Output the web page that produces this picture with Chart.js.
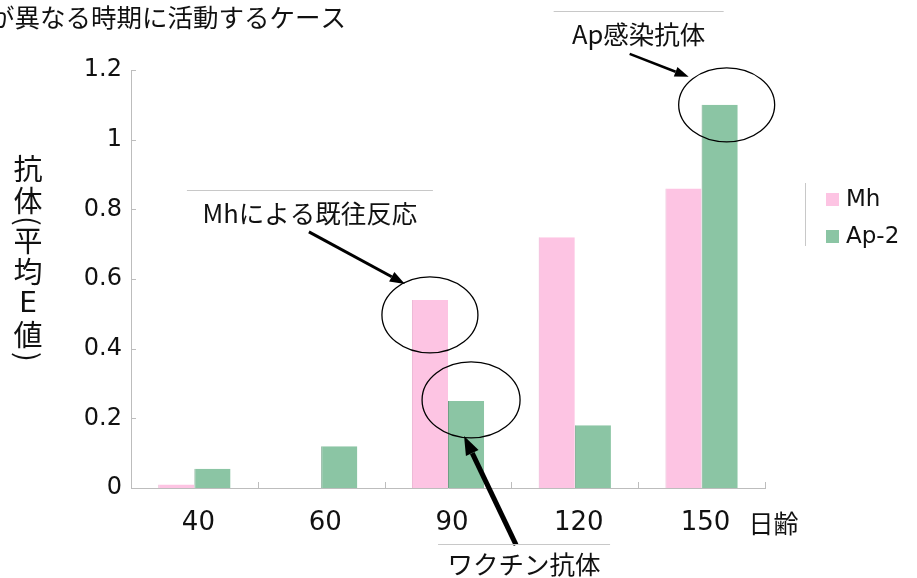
<!DOCTYPE html>
<html>
<head>
<meta charset="utf-8">
<script src="https://cdn.jsdelivr.net/npm/chart.js@4/dist/chart.umd.min.js"></script>
<style>
  html, body { margin: 0; padding: 0; background: #ffffff; }
  #wrap { width: 917px; height: 578px; }
</style>
</head>
<body>
<div id="wrap"><canvas id="c" width="917" height="578"></canvas></div>
<script>
// ---- data ----
const categories = ['40', '60', '90', '120', '150'];
const mhValues   = [0.01, null, 0.54, 0.72, 0.86];
const ap2Values  = [0.055, 0.12, 0.25, 0.18, 1.10];
const seriesNames = ['Mh', 'Ap-2'];
const yTickValues = [0, 0.2, 0.4, 0.6, 0.8, 1.0, 1.2];

// ---- text ----
const titleText = 'が異なる時期に活動するケース';
const yTitleChars = ['抗', '体', '(', '平', '均', 'E', '値', ')'];
const xUnitText = '日齢';
const noteMh = 'Mhによる既往反応';
const noteAp = 'Ap感染抗体';
const noteVaccine = 'ワクチン抗体';

// ---- style ----
const PINK = '#fdc4e3';
const PINK_EDGE = '#e9accd';
const GREEN = '#8bc5a4';
const GREEN_EDGE = '#6e9f84';
const AXIS = '#bdbdbd';
const INK = '#111111';
const NUM_FONT = '"DejaVu Sans", sans-serif';
const JP_FONT = '"Noto Sans CJK JP", "Noto Sans", sans-serif';

const fmt = v => String(+Number(v).toFixed(1));

// short inward tick marks on both axes
const innerTicks = {
  id: 'innerTicks',
  afterDatasetsDraw(chart) {
    const { ctx, chartArea: a } = chart;
    const x = chart.scales.x, y = chart.scales.y;
    ctx.save();
    ctx.strokeStyle = AXIS;
    ctx.lineWidth = 1;
    ctx.beginPath();
    y.ticks.forEach(t => {
      const py = Math.round(y.getPixelForValue(t.value)) + 0.5;
      ctx.moveTo(a.left, py); ctx.lineTo(a.left + 5, py);
    });
    const n = categories.length;
    const w = (x.right - x.left) / n;
    for (let i = 1; i <= n; i++) {
      const px = Math.round(x.left + i * w) + 0.5;
      ctx.moveTo(px, a.bottom); ctx.lineTo(px, a.bottom - 6);
    }
    ctx.stroke();
    ctx.restore();
  }
};

function arrow(ctx, x1, y1, x2, y2, lw, headLen, headW) {
  const ang = Math.atan2(y2 - y1, x2 - x1);
  const bx = x2 - headLen * Math.cos(ang), by = y2 - headLen * Math.sin(ang);
  ctx.save();
  ctx.strokeStyle = '#000'; ctx.fillStyle = '#000';
  ctx.lineWidth = lw; ctx.lineCap = 'butt';
  ctx.beginPath(); ctx.moveTo(x1, y1); ctx.lineTo(bx, by); ctx.stroke();
  ctx.beginPath();
  ctx.moveTo(x2, y2);
  ctx.lineTo(bx + headW / 2 * Math.sin(ang), by - headW / 2 * Math.cos(ang));
  ctx.lineTo(bx - headW / 2 * Math.sin(ang), by + headW / 2 * Math.cos(ang));
  ctx.closePath(); ctx.fill();
  ctx.restore();
}

function ellipse(ctx, cx, cy, rx, ry) {
  ctx.save();
  ctx.strokeStyle = '#000'; ctx.lineWidth = 1.3;
  ctx.beginPath(); ctx.ellipse(cx, cy, rx, ry, 0, 0, Math.PI * 2); ctx.stroke();
  ctx.restore();
}

function caption(ctx, text, cx, cy, ruleHalf, ruleDy) {
  ctx.save();
  ctx.strokeStyle = '#c8c8c8'; ctx.lineWidth = 1;
  ctx.beginPath();
  ctx.moveTo(cx - ruleHalf, Math.round(cy + ruleDy) + 0.5);
  ctx.lineTo(cx + ruleHalf, Math.round(cy + ruleDy) + 0.5);
  ctx.stroke();
  ctx.fillStyle = INK;
  ctx.font = '25.5px ' + JP_FONT;
  ctx.textAlign = 'center'; ctx.textBaseline = 'middle';
  ctx.fillText(text, cx, cy);
  ctx.restore();
}

// title, vertical axis title, unit, legend and callouts
const decorations = {
  id: 'decorations',
  afterDraw(chart) {
    const { ctx } = chart;
    const x = chart.scales.x;

    // title (starts beyond the left edge)
    ctx.save();
    ctx.fillStyle = INK;
    ctx.font = '25.5px ' + JP_FONT;
    ctx.textAlign = 'right'; ctx.textBaseline = 'middle';
    ctx.fillText(titleText, 346, 17);
    ctx.restore();

    // vertical y-axis title, upright characters
    ctx.save();
    ctx.fillStyle = INK;
    ctx.textAlign = 'center'; ctx.textBaseline = 'middle';
    const centers = [169, 201, 221, 241, 272, 305, 335, 357];
    yTitleChars.forEach((ch, i) => {
      ctx.font = (ch === 'E' ? '28px ' + NUM_FONT : '29px ' + JP_FONT);
      if (ch === '(' || ch === ')') {
        ctx.save();
        ctx.translate(28, centers[i]);
        ctx.rotate(Math.PI / 2);
        ctx.fillText(ch, 0, 0);
        ctx.restore();
      } else {
        ctx.fillText(ch, 28, centers[i]);
      }
    });
    ctx.restore();

    // unit after the last category label
    ctx.save();
    ctx.font = '26px ' + NUM_FONT;
    const lastW = ctx.measureText(categories[categories.length - 1]).width;
    const lastX = x.getPixelForValue(categories.length - 1) + 4;
    ctx.fillStyle = INK;
    ctx.font = '25px ' + JP_FONT;
    ctx.textAlign = 'left'; ctx.textBaseline = 'middle';
    ctx.fillText(xUnitText, lastX + lastW / 2 + 18, 523);
    ctx.restore();

    // legend
    ctx.save();
    ctx.strokeStyle = '#c8c8c8'; ctx.lineWidth = 1;
    ctx.beginPath(); ctx.moveTo(805.5, 183); ctx.lineTo(805.5, 246); ctx.stroke();
    ctx.font = '23px ' + NUM_FONT;
    ctx.textAlign = 'left'; ctx.textBaseline = 'middle';
    chart.data.datasets.forEach((ds, i) => {
      const cy = 200 + i * 37;
      ctx.fillStyle = ds.backgroundColor;
      ctx.fillRect(826, cy - 7, 13, 13);
      ctx.fillStyle = INK;
      ctx.fillText(ds.label, 846, cy);
    });
    ctx.restore();

    // callouts anchored to the bars they describe
    const mhBar90 = chart.getDatasetMeta(0).data[2];
    const apBar90 = chart.getDatasetMeta(1).data[2];
    const apBar150 = chart.getDatasetMeta(1).data[4];

    const e1 = { x: mhBar90.x, y: mhBar90.y + 15 };
    ellipse(ctx, e1.x, e1.y, 48, 38);
    arrow(ctx, e1.x - 121, e1.y - 83, e1.x - 25, e1.y - 31, 3, 15, 11);
    caption(ctx, noteMh, e1.x - 120, e1.y - 102, 123, -23);

    const e2 = { x: apBar90.x + 5, y: apBar90.y - 1 };
    ellipse(ctx, e2.x, e2.y, 49, 38);
    arrow(ctx, e2.x + 45, e2.y + 145, e2.x - 7, e2.y + 36, 5, 19, 14);
    caption(ctx, noteVaccine, e2.x + 53, e2.y + 164, 86, -20);

    const e3 = { x: apBar150.x + 7, y: apBar150.y };
    ellipse(ctx, e3.x, e3.y, 48, 37);
    arrow(ctx, e3.x - 97, e3.y - 51, e3.x - 38, e3.y - 28, 2.5, 14, 10);
    caption(ctx, noteAp, e3.x - 88, e3.y - 71, 85, -23);
  }
};

new Chart(document.getElementById('c'), {
  type: 'bar',
  data: {
    labels: categories,
    datasets: [
      {
        label: seriesNames[0], data: mhValues,
        backgroundColor: PINK, borderColor: PINK_EDGE,
        borderWidth: { left: 1, top: 0, right: 0, bottom: 0 }
      },
      {
        label: seriesNames[1], data: ap2Values,
        backgroundColor: GREEN, borderColor: GREEN_EDGE,
        borderWidth: { left: 1, top: 0, right: 0, bottom: 0 }
      }
    ]
  },
  options: {
    responsive: false,
    animation: false,
    devicePixelRatio: 1,
    categoryPercentage: 0.57,
    barPercentage: 1,
    layout: { padding: { top: 70, right: 152, bottom: 0, left: 0 } },
    plugins: { legend: { display: false }, tooltip: { enabled: false }, title: { display: false } },
    scales: {
      x: {
        offset: true,
        grid: { display: false, drawTicks: false },
        border: { display: true, color: AXIS, width: 1 },
        ticks: { color: INK, font: { family: NUM_FONT, size: 26 }, padding: 20, maxRotation: 0, labelOffset: 4 },
        afterFit(s) { s.height = 90; }
      },
      y: {
        min: 0, max: 1.2,
        afterBuildTicks(s) { s.ticks = yTickValues.map(v => ({ value: v })); },
        grid: { display: false, drawTicks: false },
        border: { display: true, color: AXIS, width: 1 },
        ticks: { color: INK, font: { family: NUM_FONT, size: 24 }, padding: 9, callback: v => fmt(v) },
        afterFit(s) { s.width = 131; }
      }
    }
  },
  plugins: [innerTicks, decorations]
});
</script>
</body>
</html>
